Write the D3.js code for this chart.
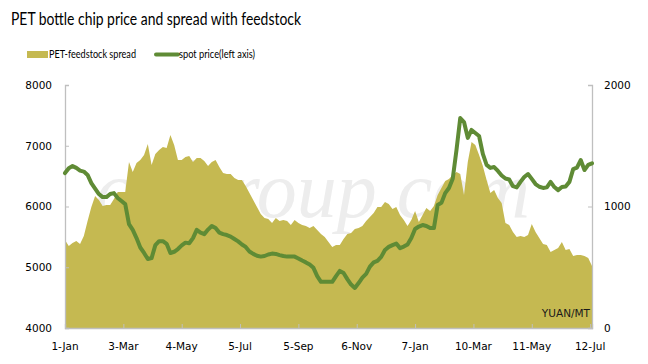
<!DOCTYPE html>
<html><head><meta charset="utf-8">
<script src="https://cdn.jsdelivr.net/npm/d3@7"></script>
<style>body{margin:0;background:#fff;} svg{display:block}</style>
</head><body>
<svg id="chart" width="648" height="364"></svg>
<script>
// ---- data ----
const startDate = "2012-01-01";
const stepDays = 4;
const endDate = "2013-07-14";
const tickDates = ["2012-01-01","2012-03-03","2012-05-04","2012-07-05","2012-09-05","2012-11-06","2013-01-07","2013-03-10","2013-05-11","2013-07-12"];
const tickLabels = ["1-Jan","3-Mar","4-May","5-Jul","5-Sep","6-Nov","7-Jan","10-Mar","11-May","12-Jul"];
const leftTicks = [4000,5000,6000,7000,8000];
const rightTicks = [0,1000,2000];
const seriesNames = ["PET-feedstock spread","spot price(left axis)"];

// PET-feedstock spread (right axis, YUAN/MT)
const spread = [724,675,700,716,691,757,881,996,1086,1053,
1004,1012,1012,1062,1119,1119,1119,1366,1284,1358,
1383,1424,1514,1341,1432,1465,1490,1481,1588,1506,
1383,1383,1407,1416,1366,1399,1399,1374,1333,1366,
1383,1325,1276,1267,1267,1235,1218,1218,1169,1111,
1053,996,938,905,897,864,905,881,889,881,
848,889,864,848,839,823,839,807,774,749,
708,667,683,683,732,774,782,815,823,839,
881,914,946,996,996,1037,1020,979,996,930,
889,839,889,963,872,930,987,963,1004,1095,
1152,1210,1226,1259,1284,1267,1095,1366,1531,1506,
1424,1333,1218,1111,1136,1070,1029,864,848,790,
749,757,749,765,856,790,741,691,683,625,
642,658,708,642,650,593,601,601,593,576,510];

// spot price (left axis, YUAN/MT)
const price = [6550,6630,6665,6635,6590,6575,6520,6385,6295,6205,
6155,6155,6205,6220,6140,6090,6040,5710,5615,5480,
5325,5235,5135,5150,5365,5430,5430,5385,5235,5255,
5300,5360,5405,5395,5480,5615,5570,5545,5620,5680,
5645,5570,5545,5530,5505,5465,5425,5375,5335,5260,
5220,5190,5175,5185,5210,5225,5220,5200,5185,5175,
5175,5175,5145,5110,5080,5045,4990,4855,4760,4760,
4760,4760,4855,4940,4905,4805,4715,4660,4740,4830,
4890,5010,5080,5105,5170,5285,5335,5365,5390,5315,
5340,5375,5480,5630,5670,5695,5680,5645,5645,6025,
6060,6220,6305,6455,6930,7455,7390,7130,7260,7210,
7160,6865,6685,6635,6650,6585,6510,6460,6445,6335,
6315,6405,6485,6535,6455,6370,6325,6305,6315,6405,
6320,6270,6320,6330,6405,6615,6640,6765,6600,6685,6710];

// ---- chart ----
const parse = d3.utcParse("%Y-%m-%d");
const t0 = parse(startDate);
const dates = price.map((_, i) => d3.utcDay.offset(t0, i * stepDays));
const rows = dates.map((d, i) => ({date: d, spread: spread[i], price: price[i]}));

const svg = d3.select("#chart");
const L = 65, R = 592, T = 85, B = 328;
const x = d3.scaleUtc().domain([t0, parse(endDate)]).range([L, R]);
const yL = d3.scaleLinear().domain([4000, 8000]).range([B, T]);
const yR = d3.scaleLinear().domain([0, 2000]).range([B, T]);

const areaColor = "#C5B951";
const lineColor = "#5F8B35";
const axisColor = "#BFBFBF";
const fontAxis = "'DejaVu Sans', Verdana, sans-serif";
const fontLabel = "Lato, 'Liberation Sans', sans-serif";

// title
svg.append("text").attr("x", 11).attr("y", 25)
  .attr("font-family", fontLabel).attr("font-size", 17.5).attr("fill", "#000")
  .attr("textLength", 290).attr("lengthAdjust", "spacingAndGlyphs")
  .text("PET bottle chip price and spread with feedstock");

// legend
const lg = svg.append("g");
lg.append("rect").attr("x", 27).attr("y", 51).attr("width", 21).attr("height", 7).attr("fill", areaColor);
lg.append("text").attr("x", 49).attr("y", 58).attr("font-family", fontLabel).attr("font-size", 10.5)
  .attr("textLength", 87).attr("lengthAdjust", "spacingAndGlyphs").text(seriesNames[0]);
lg.append("line").attr("x1", 156).attr("x2", 178).attr("y1", 54.5).attr("y2", 54.5)
  .attr("stroke", lineColor).attr("stroke-width", 4).attr("stroke-linecap", "round");
lg.append("text").attr("x", 179).attr("y", 58).attr("font-family", fontLabel).attr("font-size", 10.5)
  .attr("textLength", 76).attr("lengthAdjust", "spacingAndGlyphs").text(seriesNames[1]);

// watermark
svg.append("text").attr("x", 530).attr("y", 217).attr("text-anchor", "end")
  .attr("font-family", "'Liberation Serif', 'DejaVu Serif', serif").attr("font-style", "italic")
  .attr("font-size", 80).attr("fill", "#EDEDED").text("ccfgroup.com");

// area
svg.append("path").datum(rows)
  .attr("fill", areaColor)
  .attr("d", d3.area().x(d => x(d.date)).y0(yR(0)).y1(d => yR(d.spread)));

// axes
const gL = svg.append("g").attr("transform", `translate(${L},0)`)
  .call(d3.axisRight(yL).tickValues(leftTicks).tickSize(4).tickFormat(d3.format("d")));
gL.selectAll("text").remove();
const gR = svg.append("g").attr("transform", `translate(${R},0)`)
  .call(d3.axisLeft(yR).tickValues(rightTicks).tickSize(4).tickFormat(d3.format("d")));
gR.selectAll("text").remove();
const gB = svg.append("g").attr("transform", `translate(0,${B})`)
  .call(d3.axisTop(x).tickValues(tickDates.map(parse)).tickSize(4).tickFormat(""));
gB.selectAll("text").remove();
[gL, gR, gB].forEach(g => {
  g.selectAll("path.domain").attr("stroke", axisColor).attr("stroke-width", 1.3);
  g.selectAll(".tick line").attr("stroke", axisColor).attr("stroke-width", 1);
});

// tick labels
svg.append("g").selectAll("text").data(leftTicks).join("text")
  .attr("x", 52).attr("y", d => yL(d)).attr("dy", "0.36em").attr("text-anchor", "end")
  .attr("font-family", fontAxis).attr("font-size", 10.5).attr("fill", "#000").text(d => d);
svg.append("g").selectAll("text").data(rightTicks).join("text")
  .attr("x", 604).attr("y", d => yR(d)).attr("dy", "0.36em").attr("text-anchor", "start")
  .attr("font-family", fontAxis).attr("font-size", 10.5).attr("fill", "#000").text(d => d);
svg.append("g").selectAll("text").data(tickDates).join("text")
  .attr("x", d => x(parse(d))).attr("y", 346).attr("dy", "0.36em").attr("text-anchor", "middle")
  .attr("font-family", fontAxis).attr("font-size", 10.5).attr("fill", "#000")
  .text((d, i) => tickLabels[i]);

// unit label
svg.append("text").attr("x", 590).attr("y", 317).attr("text-anchor", "end")
  .attr("font-family", fontAxis).attr("font-size", 10.5).attr("fill", "#1a1a1a").text("YUAN/MT");

// price line
svg.append("path").datum(rows)
  .attr("fill", "none").attr("stroke", lineColor).attr("stroke-width", 4)
  .attr("stroke-linejoin", "round").attr("stroke-linecap", "round")
  .attr("d", d3.line().x(d => x(d.date)).y(d => yL(d.price)));
</script>
</body></html>
